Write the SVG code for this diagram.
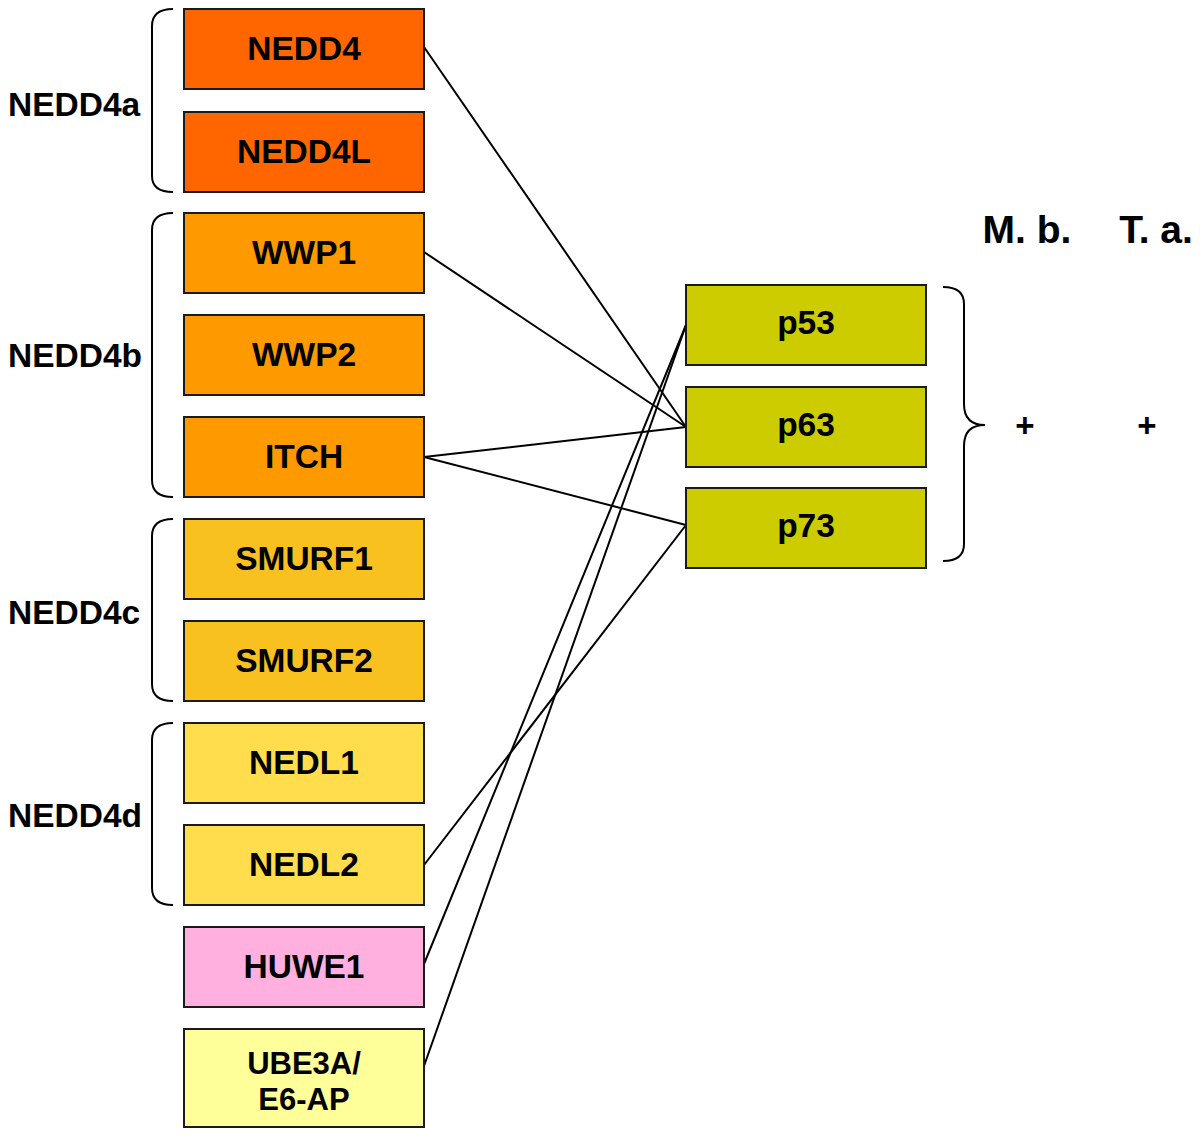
<svg xmlns="http://www.w3.org/2000/svg" width="1200" height="1136" viewBox="0 0 1200 1136">
<style>
  text { font-family: "Liberation Sans", Arial, sans-serif; font-weight: bold; fill: #000; }
  .bt { font-size: 33.5px; text-anchor: middle; }
  .bt2 { font-size: 31px; text-anchor: middle; }
  .lb { font-size: 33.5px; text-anchor: start; }
  .sp { font-size: 39px; text-anchor: middle; }
  .pl { font-size: 33px; text-anchor: middle; }
  .box { stroke: #1a1a1a; stroke-width: 2; }
  .br { fill: none; stroke: #000; stroke-width: 2; }
  .cn { stroke: #000; stroke-width: 2; fill: none; }
  .a { fill: #FF6600; }
  .b { fill: #FF9900; }
  .c { fill: #F9C11F; }
  .d { fill: #FFDD4D; }
  .h { fill: #FFB0DF; }
  .u { fill: #FFFF99; }
  .p { fill: #CCCC00; }
</style>
<rect width="1200" height="1136" fill="#fff"/>

<g id="connectors">
  <line class="cn" x1="424" y1="47" x2="686" y2="427"/>
  <line class="cn" x1="424" y1="252" x2="686" y2="427"/>
  <line class="cn" x1="424" y1="457" x2="686" y2="427"/>
  <line class="cn" x1="424" y1="457" x2="686" y2="525"/>
  <line class="cn" x1="424" y1="865" x2="686" y2="525"/>
  <line class="cn" x1="424" y1="964" x2="686" y2="325"/>
  <line class="cn" x1="424" y1="1066" x2="686" y2="325"/>
</g>

<g id="brackets">
  <path class="br" d="M173,9 Q152,9 152,26 L152,176 Q152,192 173,192"/>
  <path class="br" d="M173,213 Q152,213 152,230 L152,480 Q152,497 173,497"/>
  <path class="br" d="M173,519 Q152,519 152,536 L152,684 Q152,701 173,701"/>
  <path class="br" d="M173,723 Q152,723 152,740 L152,888 Q152,905 173,905"/>
  <path class="br" d="M943,287 Q964,287 964,304 L964,404 Q964,425 985,425 Q964,425 964,446 L964,544 Q964,561 943,561"/>
</g>

<g id="group-labels">
  <text class="lb" x="8" y="116">NEDD4a</text>
  <text class="lb" x="8" y="367">NEDD4b</text>
  <text class="lb" x="8" y="624">NEDD4c</text>
  <text class="lb" x="8" y="827">NEDD4d</text>
</g>

<g id="node-NEDD4"><rect class="box a" x="184" y="9" width="240" height="80"/><text class="bt" x="304" y="60">NEDD4</text></g>
<g id="node-NEDD4L"><rect class="box a" x="184" y="112" width="240" height="80"/><text class="bt" x="304" y="163">NEDD4L</text></g>
<g id="node-WWP1"><rect class="box b" x="184" y="213" width="240" height="80"/><text class="bt" x="304" y="264">WWP1</text></g>
<g id="node-WWP2"><rect class="box b" x="184" y="315" width="240" height="80"/><text class="bt" x="304" y="366">WWP2</text></g>
<g id="node-ITCH"><rect class="box b" x="184" y="417" width="240" height="80"/><text class="bt" x="304" y="468">ITCH</text></g>
<g id="node-SMURF1"><rect class="box c" x="184" y="519" width="240" height="80"/><text class="bt" x="304" y="570">SMURF1</text></g>
<g id="node-SMURF2"><rect class="box c" x="184" y="621" width="240" height="80"/><text class="bt" x="304" y="672">SMURF2</text></g>
<g id="node-NEDL1"><rect class="box d" x="184" y="723" width="240" height="80"/><text class="bt" x="304" y="774">NEDL1</text></g>
<g id="node-NEDL2"><rect class="box d" x="184" y="825" width="240" height="80"/><text class="bt" x="304" y="876">NEDL2</text></g>
<g id="node-HUWE1"><rect class="box h" x="184" y="927" width="240" height="80"/><text class="bt" x="304" y="978">HUWE1</text></g>
<g id="node-UBE3A"><rect class="box u" x="184" y="1029" width="240" height="98"/><text class="bt2" x="304" y="1074">UBE3A/</text><text class="bt2" x="304" y="1110">E6-AP</text></g>

<g id="node-p53"><rect class="box p" x="686" y="285" width="240" height="80"/><text class="bt" x="806" y="334">p53</text></g>
<g id="node-p63"><rect class="box p" x="686" y="387" width="240" height="80"/><text class="bt" x="806" y="436">p63</text></g>
<g id="node-p73"><rect class="box p" x="686" y="488" width="240" height="80"/><text class="bt" x="806" y="537">p73</text></g>

<g id="species">
  <text class="sp" x="1027" y="243">M. b.</text>
  <text class="sp" x="1156" y="243">T. a.</text>
  <text class="pl" x="1025" y="437">+</text>
  <text class="pl" x="1147" y="437">+</text>
</g>
</svg>
